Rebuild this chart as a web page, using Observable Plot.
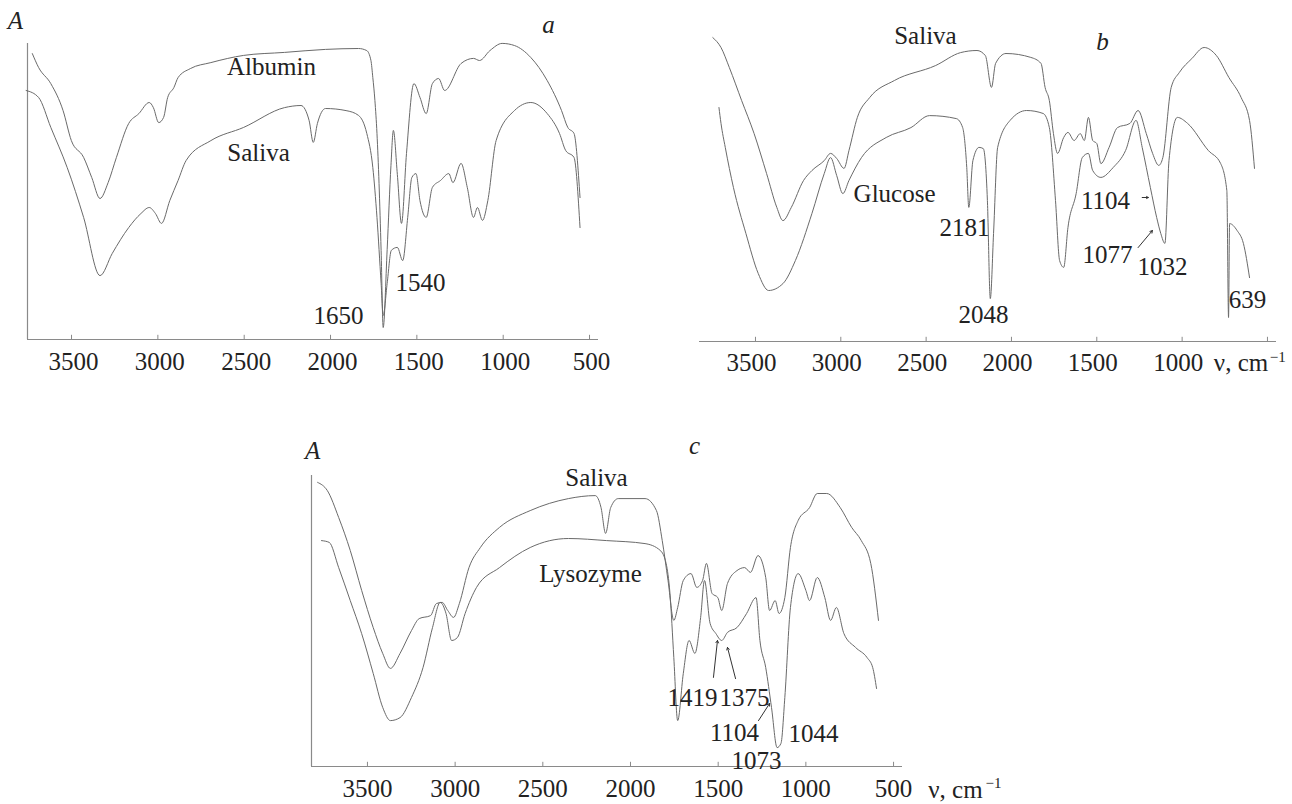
<!DOCTYPE html>
<html><head><meta charset="utf-8">
<script src="https://cdn.jsdelivr.net/npm/d3@7"></script>
<script src="https://cdn.jsdelivr.net/npm/@observablehq/plot@0.6"></script>
<style>
html,body{margin:0;padding:0;background:#fff;}
#wrap{position:relative;width:1292px;height:804px;overflow:hidden;background:#fff;}
#wrap > div{position:absolute;}
#pa{left:0;top:0;} #pb{left:640px;top:0;} #pc{left:290px;top:430px;}
#wrap svg, #wrap svg text, #wrap svg tspan{font-family:"Liberation Serif","Times New Roman","DejaVu Serif",serif !important;}
</style></head>
<body><div id="wrap"><div id="pa"></div><div id="pb"></div><div id="pc"></div></div>
<script>
// ---------- Panel a : Albumin vs Saliva ----------
const albuminNu = [3727,3691,3620,3549,3501,3430,3383,3335,3288,3240,3169,3110,3050,3026,2995,2967,2943,2907,2883,2812,2693,2503,2266,2029,1838,1790,1766,1755,1743,1731,1719,1707,1695,1672,1650,1636,1613,1589,1560,1517,1482,1446,1410,1374,1339,1244,1172,1137,1077,1006,935,840,745,662,626,590,555];
const albuminT  = [95.3,90.7,85.3,76.3,66.3,60.7,54,47,52.3,60.7,72,75.3,79,77.3,72.3,74,80.7,84,87.3,90.3,92.3,94.7,95.7,96.7,97,96.3,93,87.3,79.7,68.7,52,29.7,4,30,58,69.7,55,38.7,62,85.3,80.7,75.3,85.3,87,83,92,93.7,93,96.3,98.7,98,94,86.3,76.3,70.7,68.7,47.3];
const salivaANu = [3763,3691,3620,3525,3430,3335,3264,3169,3098,3050,3014,2979,2931,2883,2836,2693,2503,2266,2171,2124,2100,2076,2029,1910,1838,1790,1755,1731,1707,1695,1672,1648,1613,1582,1553,1529,1505,1482,1446,1410,1363,1315,1291,1244,1208,1172,1149,1120,1089,1041,935,840,745,674,638,590,555];
const salivaAT  = [83,80.7,70.7,57.3,40.7,21.3,28.7,37.3,42,44,42,38.7,46.3,53,59.7,66.3,70.7,77.3,78,73,65.7,72,77,76.3,74.7,68.7,57.3,40.7,18.7,8,18.7,29.7,30.7,26.3,40.7,54,55.3,46.3,40.7,50.7,53,55.3,52.3,58.7,50.7,40.7,44,39.7,46.3,66.3,76.3,79,75.3,68.7,63,60.7,37.3];
const ticksA = [3500,3000,2500,2000,1500,1000,500];
const labelsA = ["Albumin","Saliva","1540","1650"];
const labelsANu = [2342,2417,1479,1954];
const labelsAT = [90.7,62.3,18.7,8];
const lettersA = ["A","a"];
const lettersANu = [3825,738];
const lettersAT = [106.3,104.7];

// ---------- Panel b : Saliva vs Glucose ----------
const salivaBNu = [3750,3702,3653,3581,3508,3435,3375,3339,3290,3218,3169,3097,3060,3024,2981,2952,2903,2831,2686,2444,2298,2202,2153,2117,2093,2032,1887,1827,1803,1778,1754,1730,1694,1669,1633,1597,1573,1549,1524,1500,1476,1428,1379,1306,1258,1210,1173,1137,1113,1064,1016,943,871,799,726,654,605,576];
const salivaBT  = [101.3,98,91.3,80.3,69.3,56,44.7,40.3,44.7,53.7,57,60.3,62.7,61,57.7,63.7,74.7,81.3,87,92,96.3,97,95.3,84.7,92.7,96,94.7,92.7,84.7,80.3,69.3,62.7,68,69.7,67,69.3,67,74.7,67,66,59.3,64.7,71.3,72.7,77,69.3,62.7,58.7,61.3,84.7,89.7,94.3,98,95.3,88,81.3,73.7,57.7];
const glucoseNu = [3714,3702,3677,3629,3556,3484,3423,3339,3266,3169,3097,3060,3024,2988,2952,2879,2734,2589,2480,2323,2286,2262,2250,2226,2190,2165,2141,2124,2105,2081,2008,1911,1814,1778,1742,1718,1694,1669,1621,1585,1549,1524,1476,1404,1331,1270,1234,1186,1149,1125,1101,1077,1028,968,847,774,738,728,722,678,641,605];
const glucoseT  = [78,72.7,64.7,51.3,36,22.7,17,19.3,27,42.7,56,61.3,55.3,49.3,53.7,61.3,68,71.3,75.3,74.3,71.3,58,44.7,60.3,64.7,64.3,47,14.3,36,64.7,73.7,77,76,71.3,47,27,24.7,38,49.3,61.3,62.7,57,54.7,58,63.7,73.7,64.7,51.3,41.3,36,32.7,60.3,74.7,72.7,63.7,59.3,50.3,8,39.3,37,32.7,21.3];
const ticksB = [3500,3000,2500,2000,1500,1000,500];
const tickLabelsB = [3500,3000,2500,2000,1500,1000];
const labelsB = ["Saliva","Glucose","2181","2048","1104","1077","1032","639"];
const labelsBNu = [2504,2685,2275,2164,1449,1437,1115,617];
const labelsBT = [102,49.3,38,8.7,47,28.7,24.7,13.7];
const lettersB = ["b"];
const lettersBNu = [1467];
const lettersBT = [99.7];
const arrowsB = [{x1:1234,y1:48,x2:1198,y2:48},{x1:1258,y1:31.3,x2:1174,y2:37}];

// ---------- Panel c : Saliva vs Lysozyme ----------
const salivaCNu = [3784,3729,3664,3598,3533,3467,3413,3369,3314,3249,3205,3140,3107,3074,3042,3009,2976,2921,2856,2747,2572,2354,2201,2168,2142,2113,2070,1917,1852,1819,1786,1753,1731,1699,1655,1622,1589,1567,1535,1502,1480,1447,1393,1349,1316,1273,1229,1207,1175,1153,1120,1088,1044,979,935,881,804,739,684,630,586];
const salivaCT  = [94.7,92,83,72,58.7,46.3,37.7,32.7,37.7,45.3,49.3,50.3,54.3,54.7,52,49.7,54.3,66.3,73,79.7,85.3,89.3,90.3,86.3,77.7,86.3,89.3,89.3,85.3,75.3,62,48.7,53,62,64.3,59.7,62,67.7,57.7,56.3,52,61,65.3,66.3,64.7,70.3,63,52,55.3,51,56.3,73,82,86.3,91,91,86.3,79.7,75.3,67.7,48.7];
const lysozymeNu = [3762,3718,3664,3598,3533,3467,3413,3369,3314,3249,3183,3129,3085,3052,3020,2987,2943,2878,2747,2572,2354,2136,1917,1830,1797,1775,1753,1731,1699,1666,1633,1600,1578,1546,1513,1480,1447,1393,1338,1284,1262,1229,1196,1164,1142,1120,1088,1044,1000,979,935,892,859,826,783,717,651,619,597];
const lysozymeT  = [75.3,74.7,66.3,55.3,44.3,31,19.7,15.3,16.3,23,33,46.3,54.7,51,42,43,51,59.7,66.3,73,76,75.3,74.3,72,67.7,57.7,36.3,15.3,31,42,37.7,49.7,62,47.7,44.3,42,44.7,46.3,51,56.3,42,33,19.7,6.3,7.7,23,53,64.3,58.7,55.3,63,56.3,48.7,53,44.3,39.7,36.3,33,26];
const ticksC = [3500,3000,2500,2000,1500,1000,500];
const labelsC = ["Saliva","Lysozyme","1419","1375","1104","1073","1044"];
const labelsCNu = [2194,2228,1647,1350,1407,1282,956];
const labelsCT = [96.3,64.3,23,23,11.3,2,11];
const lettersC = ["A","c"];
const lettersCNu = [3813,1635];
const lettersCT = [105.3,107];
const arrowsC = [{x1:1527,y1:29.7,x2:1504,y2:42},{x1:1401,y1:29.3,x2:1447,y2:39.7},{x1:1270,y1:15.3,x2:1207,y2:21}];

const unitText = "ν, cm";
const unitSup = "−1";

// ---------- helpers ----------
const FONT = "Liberation Serif, Times New Roman, DejaVu Serif, serif";
const zip = (nu, t) => nu.map((v, i) => ({nu: v, t: t[i]}));
const zipText = (txt, nu, t) => txt.map((s, i) => ({text: s, nu: nu[i], t: t[i]}));
const LINE = "#6a6a6a", AXIS = "#8a8a8a", INK = "#222";

function panel(cfg) {
  const marks = [
    Plot.ruleY([0], {stroke: AXIS, strokeWidth: 1.2}),
    Plot.ruleX(cfg.ticks, {y1: 0, y2: 1.4, stroke: AXIS}),
    Plot.axisX(cfg.tickLabels, {anchor: "bottom", label: null, tickSize: 0, tickPadding: cfg.pad, dx: cfg.dx || 0, tickFormat: d => String(d), fill: INK, fontFamily: FONT})
  ];
  if (cfg.yLine) marks.push(Plot.ruleX([cfg.domain[0]], {y1: 0, y2: cfg.yTop, stroke: AXIS, strokeWidth: 1.2}));
  for (const s of cfg.series) marks.push(Plot.line(s, {x: "nu", y: "t", stroke: LINE, strokeWidth: 1, curve: "monotone-x"}));
  marks.push(Plot.text(cfg.labels, {x: "nu", y: "t", text: "text", fill: INK, fontFamily: FONT}));
  marks.push(Plot.text(cfg.letters, {x: "nu", y: "t", text: "text", fill: INK, fontStyle: "italic", fontFamily: FONT}));
  if (cfg.arrows) marks.push(Plot.arrow(cfg.arrows, {x1: "x1", y1: "y1", x2: "x2", y2: "y2", stroke: "#333", strokeWidth: 1, headLength: 4}));
  if (cfg.unit) {
    marks.push(Plot.text([cfg.unit], {x: "nu", y: "t", text: () => unitText, fill: INK, fontFamily: FONT}));
    marks.push(Plot.text([cfg.unit], {x: "supNu", y: "supT", text: () => unitSup, fill: INK, fontSize: 15, fontFamily: FONT}));
  }
  return Plot.plot({
    width: cfg.width, height: cfg.height,
    marginLeft: cfg.ml, marginRight: cfg.mr, marginTop: cfg.mt, marginBottom: cfg.mb,
    x: {domain: cfg.domain, axis: null, label: null},
    y: {domain: [0, 100], axis: null, label: null},
    style: {fontFamily: FONT, fontSize: "25px", color: INK, background: "transparent", overflow: "visible"},
    marks
  });
}

document.getElementById("pa").append(panel({
  width: 640, height: 380, ml: 27, mr: 42, mt: 39, mb: 41, pad: 13, dx: 2,
  domain: [3755, 448], ticks: ticksA, tickLabels: ticksA, yLine: true, yTop: 98.7,
  series: [zip(albuminNu, albuminT), zip(salivaANu, salivaAT)],
  labels: zipText(labelsA, labelsANu, labelsAT),
  letters: zipText(lettersA, lettersANu, lettersAT)
}));

document.getElementById("pb").append(panel({
  width: 652, height: 380, ml: 59, mr: 16, mt: 41, mb: 39, pad: 12, dx: -4,
  domain: [3828, 447], ticks: ticksB, tickLabels: tickLabelsB, yLine: false,
  series: [zip(salivaBNu, salivaBT), zip(glucoseNu, glucoseT)],
  labels: zipText(labelsB, labelsBNu, labelsBT),
  letters: zipText(lettersB, lettersBNu, lettersBT),
  arrows: arrowsB,
  unit: {nu: 655, t: -7.3, supNu: 440, supT: -5.3}
}));

document.getElementById("pc").append(panel({
  width: 720, height: 374, ml: 21, mr: 108, mt: 36, mb: 38, pad: 13,
  domain: [3819, 449], ticks: ticksC, tickLabels: ticksC, yLine: true, yTop: 97,
  series: [zip(salivaCNu, salivaCT), zip(lysozymeNu, lysozymeT)],
  labels: zipText(labelsC, labelsCNu, labelsCT),
  letters: zipText(lettersC, lettersCNu, lettersCT),
  arrows: arrowsC,
  unit: {nu: 147, t: -7.7, supNu: -70, supT: -5.7}
}));
</script>
</body></html>
